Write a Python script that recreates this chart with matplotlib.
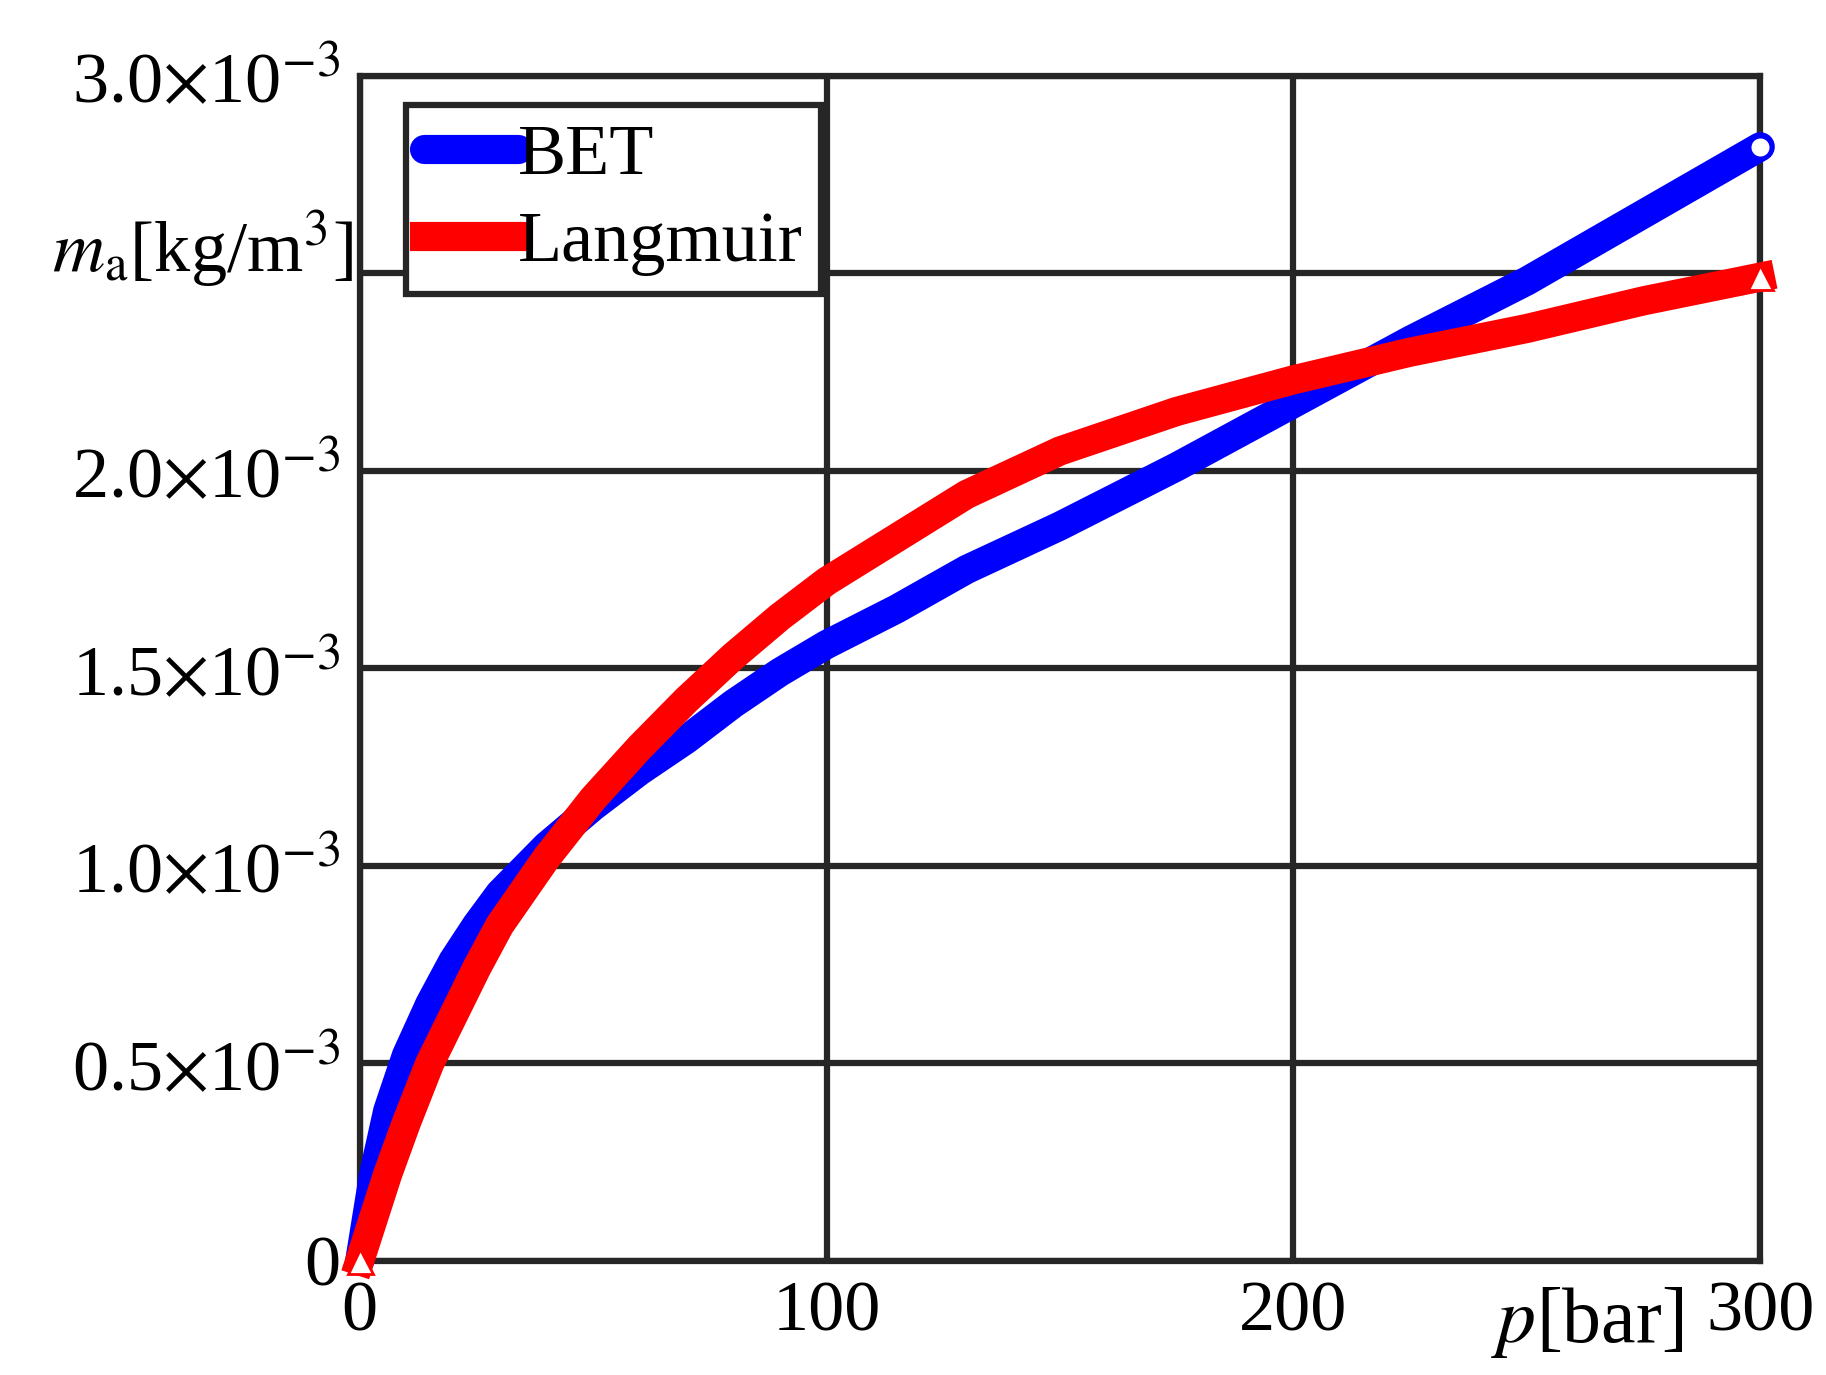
import numpy as np
import matplotlib.pyplot as plt

plt.rcParams['font.family'] = ['Liberation Serif', 'DejaVu Serif']
plt.rcParams['mathtext.fontset'] = 'stix'

p = [0, 3, 6, 10, 15, 20, 25, 30, 40, 50, 60, 70, 80, 90, 100, 115, 130, 150, 175, 200, 225, 250, 275, 300]
bet = [0.0001, 0.22, 0.38, 0.52, 0.65, 0.76, 0.85, 0.93, 1.05, 1.15, 1.24, 1.32, 1.41, 1.49, 1.56, 1.65, 1.75, 1.86, 2.01, 2.17, 2.33, 2.48, 2.65, 2.82]
p_l = [0, 3, 6, 10, 15, 20, 25, 30, 40, 50, 60, 70, 80, 90, 100, 115, 130, 150, 175, 200, 225, 250, 275, 300]
lang = [0.0, 0.11, 0.22, 0.35, 0.50, 0.62, 0.74, 0.85, 1.02, 1.17, 1.30, 1.42, 1.53, 1.63, 1.72, 1.83, 1.94, 2.05, 2.15, 2.23, 2.30, 2.36, 2.43, 2.49]
yticks = [0, 0.5, 1.0, 1.5, 2.0, 2.5, 3.0]
ylabels = ['0', r'0.5$\times$10$^{-3}$', r'1.0$\times$10$^{-3}$', r'1.5$\times$10$^{-3}$',
           r'2.0$\times$10$^{-3}$', '', r'3.0$\times$10$^{-3}$']
xticks = [0, 100, 200, 300]

fig = plt.figure(figsize=(18.26, 13.75), dpi=100)
ax = fig.add_axes([0.197, 0.083, 0.767, 0.862])
gc = '#262626'

ax.plot(p, bet, color='blue', lw=21, solid_capstyle='round', solid_joinstyle='round',
        label='BET', zorder=3, clip_on=False)
ax.plot(p[-1], bet[-1], 'o', ms=16, mfc='white', mec='blue', mew=3, zorder=4, clip_on=False)
ax.plot(p_l, lang, color='red', lw=21, solid_joinstyle='round', marker='^', ms=7,
        label='Langmuir', zorder=5, clip_on=False)
ax.plot([p_l[0], p_l[-1]], [lang[0], lang[-1]], '^', ms=18, mfc='white', mec='red', mew=2,
        zorder=6, clip_on=False)

ax.set_xlim(0, 300)
ax.set_ylim(0, 3.0)
ax.set_xticks(xticks)
ax.set_xticklabels([str(v) for v in xticks])
ax.set_yticks(yticks)
ax.set_yticklabels(ylabels)
ax.tick_params(length=0, labelsize=52, pad=14)
ax.grid(True, color=gc, lw=4.5)
for s in ax.spines.values():
    s.set_color(gc)
    s.set_linewidth(4.5)

ax.text(-0.005, 2.56, r'$m_{\rm a}$[kg/m$^3$]', fontsize=52, ha='right', va='center',
        transform=ax.get_yaxis_transform())
ax.text(0.945, -0.02, r'$p$[bar]', fontsize=56, ha='right', va='top', transform=ax.transAxes)

leg = ax.legend(loc='upper left', bbox_to_anchor=(0.033, 0.975), fontsize=52, fancybox=False,
                framealpha=1, edgecolor=gc, handlelength=1.3, handletextpad=0.0,
                borderpad=0.25, labelspacing=0.3, borderaxespad=0)
leg.get_frame().set_linewidth(4.5)
for h in leg.get_lines():
    h.set_marker('')

fig.savefig('out.png', dpi=100)
